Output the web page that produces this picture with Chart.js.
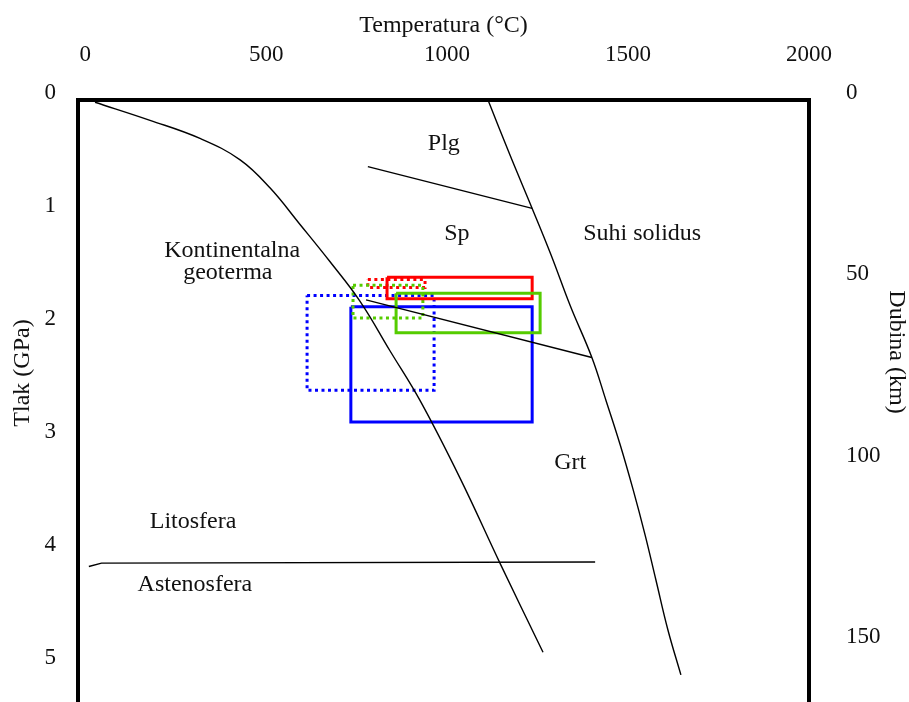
<!DOCTYPE html>
<html>
<head>
<meta charset="utf-8">
<script src="https://cdn.jsdelivr.net/npm/chart.js@4.4.1/dist/chart.umd.min.js"></script>
<style>
  body { margin: 0; background: #fff; }
</style>
</head>
<body>
<canvas id="c" width="909" height="702"></canvas>
<script>
// axis ticks
const tempTicks = [0, 500, 1000, 1500, 2000];
const pressureTicks = [0, 1, 2, 3, 4, 5];
const depthTicks = [0, 50, 100, 150];

// curves, temperature (°C) vs pressure (GPa)
const geothermT = [27, 179, 317, 428, 511, 593, 676, 759, 842, 925, 1036, 1146, 1265];
const geothermP = [0.02, 0.18, 0.34, 0.53, 0.78, 1.10, 1.43, 1.78, 2.22, 2.66, 3.35, 4.10, 4.89];

const solidusT = [1113, 1174, 1235, 1287, 1340, 1400, 1439, 1478, 1514, 1547, 1577, 1610, 1646];
const solidusP = [0, 0.49, 0.96, 1.37, 1.82, 2.28, 2.66, 3.05, 3.45, 3.85, 4.25, 4.69, 5.09];

const plgSpT = [781, 1235];
const plgSpP = [0.59, 0.96];
const spGrtT = [776, 1400];
const spGrtP = [1.77, 2.28];
const lithT = [10, 45, 1409];
const lithP = [4.13, 4.10, 4.09];

// P-T boxes
const boxTmin = [859, 834, 740, 781, 734, 613];
const boxTmax = [1257, 1235, 933, 939, 1235, 964];
const boxPmin = [1.71, 1.57, 1.64, 1.59, 1.83, 1.73];
const boxPmax = [2.06, 1.76, 1.93, 1.66, 2.85, 2.57];

// field labels
const labelText = ['Plg', 'Sp', 'Suhi solidus', 'Kontinentalna', 'geoterma', 'Grt', 'Litosfera', 'Astenosfera'];
const labelT = [991, 1027, 1539, 406, 394, 1340, 298, 303];
const labelP = [0.39, 1.18, 1.18, 1.33, 1.53, 3.21, 3.73, 4.29];

const boxStyle = [
  { color: '#55cc00', dash: [] },
  { color: '#ff0000', dash: [] },
  { color: '#55cc00', dash: [3, 3.5] },
  { color: '#ff0000', dash: [3, 3.5] },
  { color: '#0000ff', dash: [] },
  { color: '#0000ff', dash: [3, 3.5] }
];

const FONT = '"Liberation Serif", "Times New Roman", serif';

const pts = (ts, ps) => ts.map((t, i) => ({ x: t, y: ps[i] }));

const curve = (ts, ps, tension) => ({
  data: pts(ts, ps),
  borderColor: '#000',
  borderWidth: 1.4,
  pointRadius: 0,
  fill: false,
  tension: tension || 0
});

const datasets = [
  curve(geothermT, geothermP, 0.4),
  curve(solidusT, solidusP, 0.4),
  curve(plgSpT, plgSpP),
  curve(spGrtT, spGrtP),
  curve(lithT, lithP)
];

boxTmin.forEach((t0, i) => {
  const t1 = boxTmax[i], p0 = boxPmin[i], p1 = boxPmax[i];
  datasets.push({
    data: pts([t0, t1, t1, t0, t0], [p0, p0, p1, p1, p0]),
    borderColor: boxStyle[i].color,
    borderDash: boxStyle[i].dash,
    borderWidth: 3,
    borderJoinStyle: 'miter',
    pointRadius: 0,
    fill: false,
    tension: 0
  });
});

const setTicks = vals => scale => { scale.ticks = vals.map(v => ({ value: v })); };

// field labels + vertical axis titles
const textPlugin = {
  id: 'texts',
  afterDatasetsDraw(chart) {
    const { ctx, scales: { x, y } } = chart;
    ctx.save();
    ctx.fillStyle = '#111';
    ctx.font = '24px ' + FONT;
    ctx.textAlign = 'center';
    ctx.textBaseline = 'middle';
    labelText.forEach((txt, i) => {
      ctx.fillText(txt, x.getPixelForValue(labelT[i]), y.getPixelForValue(labelP[i]));
    });
    ctx.translate(23, 373);
    ctx.rotate(-Math.PI / 2);
    ctx.fillText('Tlak (GPa)', 0, 0);
    ctx.restore();
    ctx.save();
    ctx.fillStyle = '#111';
    ctx.font = '24px ' + FONT;
    ctx.textAlign = 'center';
    ctx.textBaseline = 'middle';
    ctx.translate(896, 352);
    ctx.rotate(Math.PI / 2);
    ctx.fillText('Dubina (km)', 0, 0);
    ctx.restore();
  }
};

const tickFont = { family: FONT, size: 23 };
const plain = v => String(v);

new Chart(document.getElementById('c'), {
  type: 'line',
  data: { datasets },
  plugins: [textPlugin],
  options: {
    responsive: false,
    animation: false,
    events: [],
    layout: { padding: 0 },
    plugins: { legend: { display: false }, tooltip: { enabled: false } },
    scales: {
      x: {
        type: 'linear',
        position: 'top',
        min: -20,
        max: 2000,
        afterBuildTicks: setTicks(tempTicks),
        afterFit: s => { s.height = 100; s.paddingLeft = 0; s.paddingRight = 0; },
        grid: { display: false, drawTicks: false },
        border: { display: true, width: 4, color: '#000' },
        ticks: { font: tickFont, color: '#111', padding: 31, maxRotation: 0, callback: plain },
        title: { display: true, text: 'Temperatura (°C)', font: { family: FONT, size: 24 }, color: '#111', padding: { top: 11, bottom: 0 } }
      },
      y: {
        type: 'linear',
        position: 'left',
        reverse: true,
        min: 0,
        max: 5.33,
        afterBuildTicks: setTicks(pressureTicks),
        afterFit: s => { s.width = 78; s.paddingTop = 0; s.paddingBottom = 0; },
        grid: { display: false, drawTicks: false },
        border: { display: true, width: 4, color: '#000' },
        ticks: { font: tickFont, color: '#111', padding: 22, labelOffset: -7, callback: plain }
      },
      y2: {
        type: 'linear',
        position: 'right',
        reverse: true,
        min: 0,
        max: 166,
        afterBuildTicks: setTicks(depthTicks),
        afterFit: s => { s.width = 100; s.paddingTop = 0; s.paddingBottom = 0; },
        grid: { display: false, drawTicks: false },
        border: { display: true, width: 4, color: '#000' },
        ticks: { font: tickFont, color: '#111', padding: 37, labelOffset: -7, callback: plain }
      }
    }
  }
});
</script>
</body>
</html>
